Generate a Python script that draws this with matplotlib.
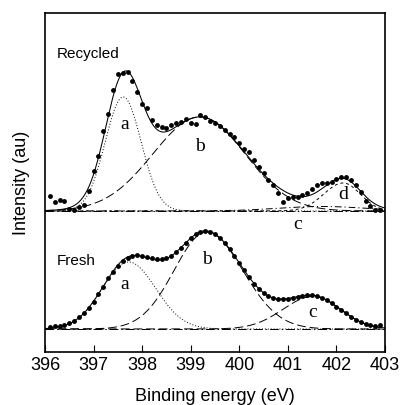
import numpy as np
import matplotlib.pyplot as plt

# binding energy grid of the measured points (eV)
energy = np.round(np.arange(396.1, 402.95, 0.1), 1)

# measured intensities (arbitrary units, above each spectrum's baseline)
fresh_counts = [2, 3, 3, 4, 6, 8, 12, 16, 21, 27,
                35, 42, 51, 57, 63, 68, 71, 73, 74, 73,
                72, 71, 70, 70, 71, 73, 77, 81, 86, 91,
                95, 97, 98, 97, 95, 91, 86, 80, 73, 66,
                59, 52, 45, 40, 36, 33, 31, 30, 30, 30,
                31, 32, 33, 34, 34, 33, 31, 29, 26, 22,
                19, 16, 12, 9, 7, 5, 4, 3, 4]
recycled_counts = [15, 9, 11, 10, 2, 1, 4, 6, 20, 40,
                   55, 80, 97, 121, 137, 138, 139, 130, 119, 107,
                   103, 91, 86, 84, 83, 86, 88, 89, 92, 88,
                   87, 96, 94, 90, 88, 85, 81, 77, 74, 68,
                   62, 59, 51, 44, 38, 31, 26, 18, 9, 13,
                   14, 14, 16, 18, 22, 26, 28, 28, 29, 32,
                   34, 34, 31, 26, 19, 10, 5, 1, 1]

# fitted components: centre (eV), height, left / right width (eV)
fresh_labels = ["a", "b", "c"]
fresh_centers = [397.72, 399.33, 401.52]
fresh_heights = [67, 97, 32.5]
fresh_wl = [0.54, 0.67, 0.62]
fresh_wr = [0.56, 0.74, 0.56]

recycled_labels = ["a", "b", "c", "d"]
recycled_centers = [397.61, 399.19, 401.7, 402.14]
recycled_heights = [114, 94, 4.5, 28]
recycled_wl = [0.37, 0.97, 0.9, 0.40]
recycled_wr = [0.37, 0.93, 0.9, 0.35]

FRESH_BASE = 23
RECYCLED_BASE = 141


def peak(x, c, h, wl, wr):
    w = np.where(x < c, wl, wr)
    return h * np.exp(-(x - c) ** 2 / (2 * w ** 2))


styles = {
    "dot": dict(ls=(0, (1, 2)), lw=0.7),
    "long": dict(ls=(0, (9, 4)), lw=0.7),
    "short": dict(ls=(0, (3, 3)), lw=0.7),
    "dashdot": dict(ls=(0, (7, 3, 1.2, 3)), lw=0.7),
}
fresh_styles = ["dot", "long", "long"]
recycled_styles = ["dot", "long", "dashdot", "short"]

fig = plt.figure(figsize=(4.01, 4.05), dpi=100)
ax = fig.add_axes([0.1122, 0.1309, 0.8478, 0.8371])

xf = np.linspace(396, 403, 701)

for base, counts, cen, hei, wl, wr, sty in [
        (FRESH_BASE, fresh_counts, fresh_centers, fresh_heights, fresh_wl, fresh_wr, fresh_styles),
        (RECYCLED_BASE, recycled_counts, recycled_centers, recycled_heights, recycled_wl, recycled_wr, recycled_styles)]:
    ax.plot([396, 403], [base, base], color="k", ls=(0, (9, 3, 1.5, 3)), lw=0.7)
    total = np.zeros_like(xf)
    for c, h, l, r, s in zip(cen, hei, wl, wr, sty):
        comp = peak(xf, c, h, l, r)
        total += comp
        ax.plot(xf, base + comp, color="k", **styles[s])
    ax.plot(xf, base + total, color="k", lw=0.75)
    ax.plot(energy, base + np.array(counts), "o", color="k", ms=3.5, mew=0)

sans = ["Liberation Sans", "DejaVu Sans"]
serif = ["Liberation Serif", "DejaVu Serif"]

ax.text(396.25, 298, "Recycled", fontsize=11, family=sans, va="center")
ax.text(396.25, 91, "Fresh", fontsize=11, family=sans, va="center")

for t, x, y in [("a", 397.65, 227), ("b", 399.2, 205), ("d", 402.15, 157), ("c", 401.21, 127),
                ("a", 397.65, 67), ("b", 399.34, 92), ("c", 401.52, 39)]:
    ax.text(x, y, t, fontsize=14, family=serif, ha="center", va="center")

ax.set_xlim(396, 403)
ax.set_ylim(0, 339)
ax.set_yticks([])
ax.set_xticks(range(396, 404))
ax.tick_params(axis="x", direction="in", length=5, width=0.8, pad=3.5, labelsize=13)
for lab in ax.get_xticklabels():
    lab.set_family(sans)
for sp in ax.spines.values():
    sp.set_linewidth(1.2)

ax.set_xlabel("Binding energy (eV)", fontsize=13, family=sans, labelpad=10)
ax.set_ylabel("Intensity (au)", fontsize=13, family=sans, labelpad=11)

fig.savefig("out.png", dpi=100)
